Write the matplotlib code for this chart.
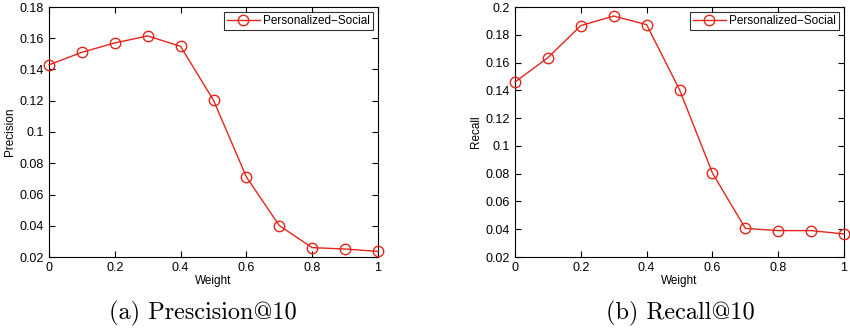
import matplotlib
matplotlib.use('Agg')
import matplotlib.pyplot as plt

# data
weights = [0, 0.1, 0.2, 0.3, 0.4, 0.5, 0.6, 0.7, 0.8, 0.9, 1.0]
precision = [0.143, 0.151, 0.157, 0.1615, 0.1548, 0.1203, 0.0712, 0.0401, 0.026, 0.0251, 0.0236]
recall = [0.146, 0.1635, 0.1866, 0.1935, 0.1873, 0.1405, 0.0805, 0.0406, 0.039, 0.039, 0.0366]
y_ticks_p = [0.02, 0.04, 0.06, 0.08, 0.1, 0.12, 0.14, 0.16, 0.18]
y_ticks_r = [0.02, 0.04, 0.06, 0.08, 0.1, 0.12, 0.14, 0.16, 0.18, 0.2]
x_ticks = [0, 0.2, 0.4, 0.6, 0.8, 1]
series_name = 'Personalized\u2212Social'
captions = ['(a) Prescision@10', '(b) Recall@10']
ylabels = ['Precision', 'Recall']

plt.rcParams['font.family'] = ['Liberation Sans', 'DejaVu Sans']
red = '#e3261c'

fig = plt.figure(figsize=(8.5, 3.3), dpi=100)
ax1 = fig.add_axes([49/850, 1-257/330, 329/850, 250/330])
ax2 = fig.add_axes([515/850, 1-257/330, 329/850, 250/330])

# caption centres (figure fraction)
cap_x = [203/850, 680/850]

for i, (ax, vals, yt) in enumerate([(ax1, precision, y_ticks_p), (ax2, recall, y_ticks_r)]):
    ax.plot(weights, vals, color=red, lw=1.0, marker='o', markersize=7.5,
            markerfacecolor='none', markeredgecolor=red, markeredgewidth=1.0,
            label=series_name, clip_on=False, zorder=3)
    ax.set_xlim(0, 1)
    ax.set_ylim(yt[0], yt[-1])
    ax.set_xticks(x_ticks)
    ax.set_xticklabels(['0', '0.2', '0.4', '0.6', '0.8', '1'])
    ax.set_yticks(yt)
    ax.set_yticklabels(['%g' % t for t in yt])
    ax.tick_params(direction='in', top=True, right=True, labelsize=9, length=4, width=0.8)
    for s in ax.spines.values():
        s.set_linewidth(0.8)
    ax.set_xlabel('Weight', fontsize=8.5, labelpad=1)
    ax.set_ylabel(ylabels[i], fontsize=8.5, labelpad=3)
    leg = ax.legend(loc='upper right', fontsize=8.5, frameon=True, fancybox=False,
                    borderpad=0.25, handlelength=2.8, borderaxespad=0.4, handletextpad=0.3)
    leg.get_frame().set_edgecolor('black')
    leg.get_frame().set_linewidth(0.8)
    fig.text(cap_x[i], 1 - 313/330, captions[i], ha='center', va='center',
             fontsize=17.5, family=['cmr10', 'DejaVu Serif'])

fig.savefig('out.png', dpi=100)
